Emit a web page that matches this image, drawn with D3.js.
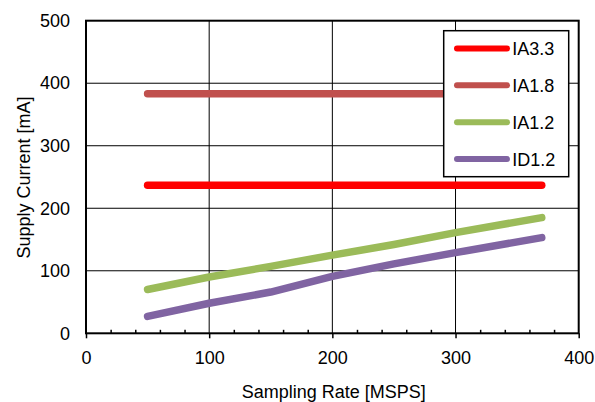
<!DOCTYPE html>
<html>
<head>
<meta charset="utf-8">
<script src="https://cdn.jsdelivr.net/npm/d3@7"></script>
<style>
  html, body { margin: 0; padding: 0; background: #fff; }
  svg { display: block; font-family: "Liberation Sans", Arial, sans-serif; }
</style>
</head>
<body>
<svg id="chart" width="595" height="402"></svg>
<script>
// Supply current vs. sampling rate
const samplingRate = [50, 100, 150, 200, 250, 300, 370];
const seriesNames = ["IA3.3", "IA1.8", "IA1.2", "ID1.2"];
const ia33 = [237, 237, 237, 237, 237, 237, 237];
const ia18 = [383, 383, 383, 383, 383, 383, 383];
const ia12 = [70, 90, 107, 125, 142, 161, 185];
const id12 = [27, 48, 66, 91, 111, 129, 153];
const seriesColors = ["#FF0000", "#C0504D", "#9BBB59", "#8064A2"];
const xTicks = [0, 100, 200, 300, 400];
const xMinorTicks = [20, 40, 60, 80, 120, 140, 160, 180, 220, 240, 260, 280, 320, 340, 360, 380];
const yTicks = [0, 100, 200, 300, 400, 500];
const xTitle = "Sampling Rate [MSPS]";
const yTitle = "Supply Current [mA]";

const seriesValues = [ia33, ia18, ia12, id12];
const series = seriesNames.map((name, i) => ({
  name,
  color: seriesColors[i],
  points: samplingRate.map((x, j) => ({ x, y: seriesValues[i][j] }))
}));

const svg = d3.select("#chart");
const plot = { left: 86, right: 578.7, top: 20.7, bottom: 333.3 };

const x = d3.scaleLinear().domain([0, 400]).range([plot.left, plot.right]);
const y = d3.scaleLinear().domain([0, 500]).range([plot.bottom, plot.top]);

// grid lines
const grid = svg.append("g").attr("stroke", "#000").attr("stroke-width", 1);
grid.selectAll("line.v").data(xTicks.slice(1, -1)).join("line")
  .attr("x1", d => x(d)).attr("x2", d => x(d))
  .attr("y1", plot.top).attr("y2", plot.bottom);
grid.selectAll("line.h").data(yTicks.slice(1, -1)).join("line")
  .attr("x1", plot.left).attr("x2", plot.right)
  .attr("y1", d => y(d)).attr("y2", d => y(d));

// x axis: major ticks outward with labels, minor ticks inward
const xAxis = svg.append("g")
  .attr("transform", `translate(0,${plot.bottom})`)
  .call(d3.axisBottom(x).tickValues(xTicks).tickSize(5).tickPadding(13).tickFormat(d3.format("d")));
const xMinor = svg.append("g")
  .attr("transform", `translate(0,${plot.bottom})`)
  .call(d3.axisBottom(x).tickValues(xMinorTicks).tickSize(-3.5).tickFormat(""));

// y axis labels only
const yAxis = svg.append("g")
  .attr("transform", `translate(${plot.left},0)`)
  .call(d3.axisLeft(y).tickValues(yTicks).tickSize(0).tickPadding(16).tickFormat(d3.format("d")));

[xAxis, xMinor, yAxis].forEach(g => {
  g.select(".domain").remove();
  g.selectAll("line").attr("stroke", "#000").attr("stroke-width", 1.5);
  g.selectAll("text").attr("fill", "#000").style("font-size", "18px")
    .style("font-family", "'Liberation Sans', Arial, sans-serif");
});

// series lines
const line = d3.line().x(d => x(d.x)).y(d => y(d.y));
svg.append("g").selectAll("path").data(series).join("path")
  .attr("d", d => line(d.points))
  .attr("fill", "none")
  .attr("stroke", d => d.color)
  .attr("stroke-width", 7.5)
  .attr("stroke-linecap", "round")
  .attr("stroke-linejoin", "round");

// plot frame
svg.append("rect")
  .attr("x", plot.left).attr("y", plot.top)
  .attr("width", plot.right - plot.left).attr("height", plot.bottom - plot.top)
  .attr("fill", "none").attr("stroke", "#000").attr("stroke-width", 2);

// legend
const legend = svg.append("g").attr("transform", "translate(443.7,30.7)");
legend.append("rect")
  .attr("width", 125).attr("height", 146)
  .attr("fill", "#fff").attr("stroke", "#000").attr("stroke-width", 1.5);
const rows = legend.selectAll("g.row").data(series).join("g")
  .attr("class", "row")
  .attr("transform", (d, i) => `translate(0,${17.7 + i * 36.9})`);
rows.append("line")
  .attr("x1", 13.3).attr("x2", 63.3)
  .attr("stroke", d => d.color).attr("stroke-width", 6).attr("stroke-linecap", "round");
rows.append("text")
  .attr("x", 68.5).attr("y", 0).attr("dy", "0.36em")
  .style("font-size", "18px").attr("fill", "#000")
  .text(d => d.name);

// axis titles
svg.append("text")
  .attr("x", (plot.left + plot.right) / 2 + 1.5).attr("y", 397.5)
  .attr("text-anchor", "middle").style("font-size", "18px").attr("fill", "#000")
  .text(xTitle);
svg.append("text")
  .attr("transform", `translate(30,177.5) rotate(-90)`)
  .attr("text-anchor", "middle").style("font-size", "18px").attr("fill", "#000")
  .text(yTitle);
</script>
</body>
</html>
